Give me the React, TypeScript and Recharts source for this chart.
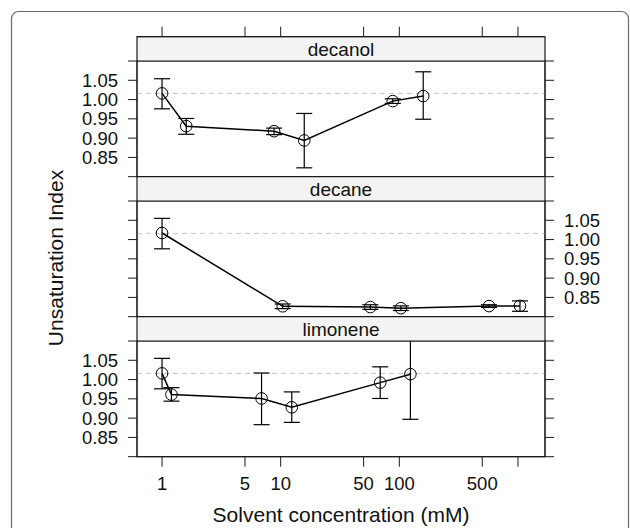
import React from 'react';
import {
  ComposedChart,
  Line,
  ErrorBar,
  XAxis,
  YAxis,
  ReferenceLine,
  ReferenceArea,
  Label
} from 'recharts';

// concentrations (mM), log x axis
const X_TICKS = [1, 5, 10, 50, 100, 500, 1000];
const Y_TICKS = [0.8, 0.85, 0.9, 0.95, 1.0, 1.05, 1.1];
const controlLevel = 1.016;

const decanolConc = [1, 1.6, 8.8, 15.8, 88, 159];
const decanolMean = [1.016, 0.931, 0.918, 0.894, 0.996, 1.009];
const decanolLow = [0.976, 0.91, 0.909, 0.823, 0.99, 0.949];
const decanolHigh = [1.054, 0.951, 0.926, 0.964, 1.002, 1.072];

const decaneConc = [1, 10.4, 57, 103, 570, 1040];
const decaneMean = [1.017, 0.827, 0.825, 0.822, 0.8275, 0.828];
const decaneLow = [0.976, 0.821, 0.819, 0.816, 0.824, 0.814];
const decaneHigh = [1.055, 0.833, 0.831, 0.828, 0.831, 0.841];

const limoneneConc = [1, 1.2, 6.9, 12.4, 69, 124];
const limoneneMean = [1.016, 0.961, 0.951, 0.928, 0.992, 1.014];
const limoneneLow = [0.976, 0.944, 0.883, 0.889, 0.951, 0.897];
const limoneneHigh = [1.055, 0.979, 1.017, 0.968, 1.033, 1.13];

// layout
const W = 630;
const H = 528;
const PLOT_LEFT = 137;
const PLOT_RIGHT = 545;
const STRIP_H = 24.3;
const PANEL_H = 115.7;
const FIRST_TOP = 36.7;
const Y_W = 60;
const X_DOMAIN = [0.615, 1690];
const FONT = '"Liberation Sans", Arial, Helvetica, sans-serif';
const INK = '#1a1a1a';

const stripTop = (i: number) => FIRST_TOP + i * (STRIP_H + PANEL_H);
const dataTop = (i: number) => stripTop(i) + STRIP_H;

const abs: React.CSSProperties = { position: 'absolute', left: 0, top: 0 };

interface PanelProps {
  index: number;
  conc: number[];
  mean: number[];
  low: number[];
  high: number[];
  labelSide: 'left' | 'right';
  bottomAxis?: boolean;
}

const Panel: React.FC<PanelProps> = ({ index, conc, mean, low, high, labelSide, bottomAxis = false }) => {
  const rows = conc.map((c, i) => ({
    conc: c,
    mean: mean[i],
    err: [mean[i] - low[i], high[i] - mean[i]]
  }));
  const top = dataTop(index);
  const bottom = top + PANEL_H;
  const xAxisH = bottomAxis ? 30 : 0;

  const yLabel = (side: string) => (v: number) => {
    if (side !== labelSide) return '';
    if (v < 0.84 || v > 1.06) return '';
    return v.toFixed(2);
  };

  const yAxisCommon = {
    type: 'number' as const,
    domain: [0.8, 1.1],
    allowDataOverflow: true,
    ticks: Y_TICKS,
    interval: 0 as const,
    width: Y_W,
    tickSize: 9,
    tickMargin: 10,
    stroke: INK,
    tick: { fill: '#111', fontSize: 18.5 }
  };

  return (
    <ComposedChart
      width={W}
      height={H}
      data={rows}
      style={abs}
      margin={{ top, bottom: H - bottom - xAxisH, left: PLOT_LEFT - Y_W, right: W - PLOT_RIGHT - Y_W }}
    >
      <XAxis
        dataKey="conc"
        type="number"
        scale="log"
        domain={X_DOMAIN}
        allowDataOverflow
        ticks={X_TICKS}
        interval={0}
        hide={!bottomAxis}
        height={30}
        tickSize={10}
        tickMargin={10}
        stroke={INK}
        tick={{ fill: '#111', fontSize: 18.5 }}
        tickFormatter={(v: number) => (v === 1000 ? '' : String(v))}
      />
      <YAxis yAxisId="l" orientation="left" {...yAxisCommon} tickFormatter={yLabel('left')} />
      <YAxis yAxisId="r" orientation="right" {...yAxisCommon} tickFormatter={yLabel('right')} />
      <ReferenceArea yAxisId="l" y1={0.8} y2={1.1} fill="none" stroke={INK} strokeWidth={1.2} />
      <ReferenceLine yAxisId="l" y={controlLevel} stroke="#c4c4c4" strokeDasharray="5 4" strokeWidth={1} />
      <Line
        yAxisId="l"
        dataKey="mean"
        stroke="#000"
        strokeWidth={1.5}
        dot={{ r: 5.8, stroke: '#000', strokeWidth: 1, fill: 'none' }}
        activeDot={false}
        isAnimationActive={false}
      >
        <ErrorBar dataKey="err" direction="y" width={8} stroke="#000" strokeWidth={1.2} />
      </Line>
    </ComposedChart>
  );
};

const Strip: React.FC<{ index: number; name: string; conc: number[]; topTicks?: boolean }> = ({
  index,
  name,
  conc,
  topTicks = false
}) => {
  const top = stripTop(index);
  const bottom = top + STRIP_H;
  const axisH = topTicks ? 10 : 0;
  const rows = conc.map((c) => ({ conc: c }));
  return (
    <ComposedChart
      width={W}
      height={H}
      data={rows}
      style={abs}
      margin={{ top: top - axisH, bottom: H - bottom, left: PLOT_LEFT, right: W - PLOT_RIGHT }}
    >
      <XAxis
        dataKey="conc"
        type="number"
        scale="log"
        domain={X_DOMAIN}
        allowDataOverflow
        ticks={X_TICKS}
        interval={0}
        orientation="top"
        hide={!topTicks}
        height={10}
        tickSize={10}
        stroke={INK}
        tickFormatter={() => ''}
      />
      <YAxis hide type="number" domain={[0, 1]} allowDataOverflow />
      <ReferenceArea
        x1={X_DOMAIN[0]}
        x2={X_DOMAIN[1]}
        y1={0}
        y2={1}
        ifOverflow="visible"
        fill="#f2f3f2"
        fillOpacity={1}
        stroke={INK}
        strokeWidth={1.2}
      >
        <Label value={name} position="center" fill="#111" fontSize={19} />
      </ReferenceArea>
    </ComposedChart>
  );
};

export default function App() {
  return (
    <div style={{ ...abs, width: W, height: H, background: '#fff', fontFamily: FONT, overflow: 'hidden' }}>
      <Panel index={0} conc={decanolConc} mean={decanolMean} low={decanolLow} high={decanolHigh} labelSide="left" />
      <Panel index={1} conc={decaneConc} mean={decaneMean} low={decaneLow} high={decaneHigh} labelSide="right" />
      <Panel
        index={2}
        conc={limoneneConc}
        mean={limoneneMean}
        low={limoneneLow}
        high={limoneneHigh}
        labelSide="left"
        bottomAxis
      />
      <Strip index={0} name="decanol" conc={decanolConc} topTicks />
      <Strip index={1} name="decane" conc={decaneConc} />
      <Strip index={2} name="limonene" conc={limoneneConc} />
      <svg width={W} height={H} style={{ ...abs, pointerEvents: 'none' }}>
        <rect x={11.5} y={11.5} width={617} height={540} rx={7} fill="none" stroke="#6a6a6a" strokeWidth={1.2} />
        <text x={63} y={258} transform="rotate(-90 63 258)" textAnchor="middle" fontSize={21} fill="#111">
          Unsaturation Index
        </text>
        <text x={341} y={522} textAnchor="middle" fontSize={21} fill="#111">
          Solvent concentration (mM)
        </text>
      </svg>
    </div>
  );
}
